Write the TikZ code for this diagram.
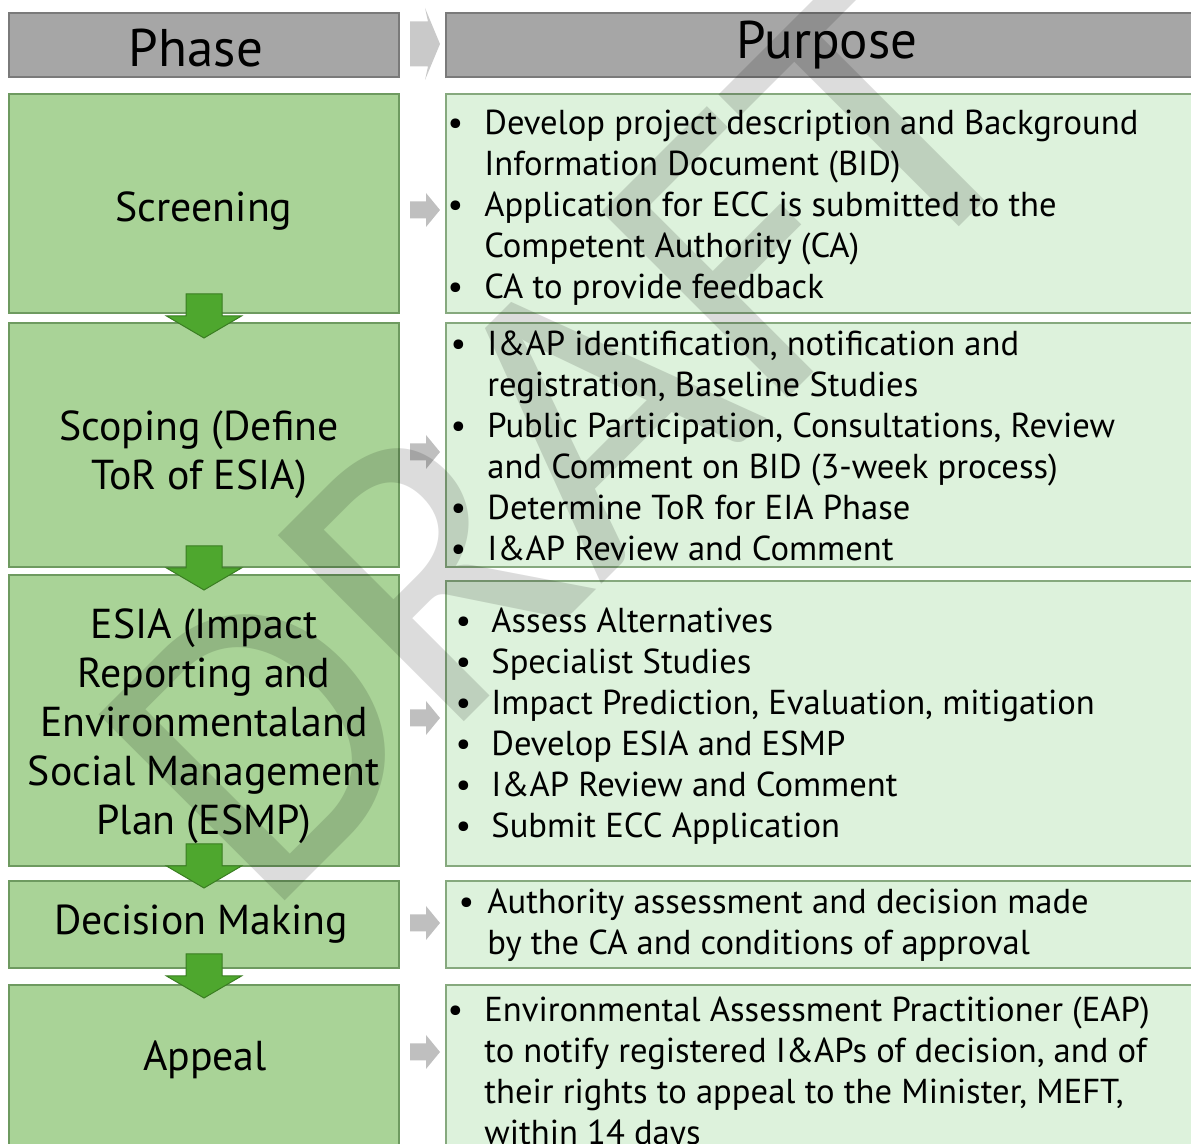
\documentclass[tikz,border=0pt]{standalone}
\usepackage{fontspec}
\setmainfont{PT Sans}
\newfontfamily\wmfont{Carlito}
\definecolor{hdrfill}{HTML}{A6A6A6}
\definecolor{hdrline}{HTML}{7A7A7A}
\definecolor{phfill}{HTML}{A9D397}
\definecolor{phline}{HTML}{6E9A60}
\definecolor{pufill}{HTML}{DDF2DC}
\definecolor{puline}{HTML}{86A97E}
\definecolor{arrgreen}{HTML}{4EA72E}
\definecolor{arrgreenline}{HTML}{3A7D22}
\definecolor{sidegray}{HTML}{BFBFBF}
\definecolor{wmgray}{HTML}{DCDCDC}
\newcommand\bl[1]{\makebox[#1][l]{\makebox[0pt][c]{\textbullet}}}
\newcommand\ind[1]{\makebox[#1]{}}
\tikzset{
  hdrbox/.style={draw=hdrline, fill=hdrfill, line width=0.6pt, inner sep=0pt},
  phbox/.style={draw=phline, fill=phfill, line width=0.6pt, inner sep=0pt, minimum width=195pt},
  pubox/.style={draw=puline, fill=pufill, line width=0.6pt, inner sep=0pt, minimum width=375pt},
  hdrtext/.style={inner sep=0pt, font=\fontsize{26.5pt}{30pt}\selectfont},
  phtext/.style={inner sep=0pt, align=center, font=\fontsize{20.9pt}{24.5pt}\selectfont},
  putext/.style={inner sep=0pt, align=left, anchor=west, font=\fontsize{17.3pt}{20.5pt}\selectfont},
  downarr/.pic={\path[fill=arrgreen, draw=arrgreenline, line width=0.5pt]
     (-18,-22) -- (18,-22) -- (18,0) -- (37.5,0) -- (0,22) -- (-37.5,0) -- (-18,0) -- cycle;},
  sidearr/.pic={\path[fill=sidegray]
     (-30,-8.5) -- (-14,-8.5) -- (-14,-17) -- (0,0) -- (-14,17) -- (-14,8.5) -- (-30,8.5) -- cycle;},
  hdrarr/.pic={\path[fill=sidegray!85]
     (-30,-22.5) -- (-12,-22.5) -- (-15,-36) -- (0,0) -- (-15,36) -- (-12,22.5) -- (-30,22.5) -- cycle;},
}
\begin{document}
\begin{tikzpicture}[x=0.5pt, y=-0.5pt]
\useasboundingbox (0,0) rectangle (1191,1144);
\clip (0,0) rectangle (1191,1144);
% header boxes
\node[hdrbox, minimum width=195pt, minimum height=32pt] (ph0) at (204,45) {};
\node[hdrbox, minimum width=375pt, minimum height=32pt] (pu0) at (821,45) {};
% phase boxes
\node[phbox, minimum height=109.5pt] (ph1) at (204,203.5) {};
\node[phbox, minimum height=122pt] (ph2) at (204,445) {};
\node[phbox, minimum height=145.5pt] (ph3) at (204,720.5) {};
\node[phbox, minimum height=43.5pt] (ph4) at (204,924.5) {};
\node[phbox, minimum height=87.5pt] (ph5) at (204,1072.5) {};
% purpose boxes
\node[pubox, minimum height=109.5pt] (pu1) at (821,203.5) {};
\node[pubox, minimum height=122pt] (pu2) at (821,445) {};
\node[pubox, minimum height=142.5pt] (pu3) at (821,723.5) {};
\node[pubox, minimum height=43.5pt] (pu4) at (821,924.5) {};
\node[pubox, minimum height=87.5pt] (pu5) at (821,1072.5) {};
% arrows
\pic at (440,44) {hdrarr};
\pic at (440,210) {sidearr};
\pic at (440,452) {sidearr};
\pic at (440,718) {sidearr};
\pic at (440,923) {sidearr};
\pic at (440,1052) {sidearr};
\pic at (204,316) {downarr};
\pic at (204,568) {downarr};
\pic at (204,866) {downarr};
\pic at (204,976) {downarr};
% watermark
\begin{scope}[blend mode=multiply]
\node[inner sep=0pt, anchor=base west, rotate=45, text=wmgray,
      font=\wmfont\fontsize{205pt}{205pt}\selectfont] (wm) at (265,921) {DRAFT};
\end{scope}
% texts
\node[hdrtext] (h1) at (196,48) {Phase};
\node[hdrtext] (h2) at (827,45) {Purpose};
\node[phtext] (t1) at (204,211) {Screening};
\node[phtext] (t2) at (199,455) {Scoping (Define\\ToR of ESIA)};
\node[phtext] (t3) at (204,726) {ESIA (Impact\\Reporting and\\Environmentaland\\Social Management\\Plan (ESMP)};
\node[phtext] (t4) at (201,924) {Decision Making};
\node[phtext] (t5) at (205,1060) {Appeal};
\node[putext] (l1) at (455,208) {\bl{14.5pt}Develop project description and Background\\
  \ind{14.5pt}Information Document (BID)\\
  \bl{14.5pt}Application for ECC is submitted to the\\
  \ind{14.5pt}Competent Authority (CA)\\
  \bl{14.5pt}CA to provide feedback};
\node[putext] (l2) at (458,445.5) {\bl{14.5pt}I\&AP identification, notification and\\
  \ind{14.5pt}registration, Baseline Studies\\
  \bl{14.5pt}Public Participation, Consultations, Review\\
  \ind{14.5pt}and Comment on BID (3-week process)\\
  \bl{14.5pt}Determine ToR for EIA Phase\\
  \bl{14.5pt}I\&AP Review and Comment};
\node[putext] (l3) at (463,726.5) {\bl{14pt}Assess Alternatives\\
  \bl{14pt}Specialist Studies\\
  \bl{14pt}Impact Prediction, Evaluation, mitigation\\
  \bl{14pt}Develop ESIA and ESMP\\
  \bl{14pt}I\&AP Review and Comment\\
  \bl{14pt}Submit ECC Application};
\node[putext] (l4) at (466,925.5) {\bl{10.5pt}Authority assessment and decision made\\
  \ind{10.5pt}by the CA and conditions of approval};
\node[putext] (l5) at (455,1074) {\bl{14.5pt}Environmental Assessment Practitioner (EAP)\\
  \ind{14.5pt}to notify registered I\&APs of decision, and of\\
  \ind{14.5pt}their rights to appeal to the Minister, MEFT,\\
  \ind{14.5pt}within 14 days};
\end{tikzpicture}
\end{document}
